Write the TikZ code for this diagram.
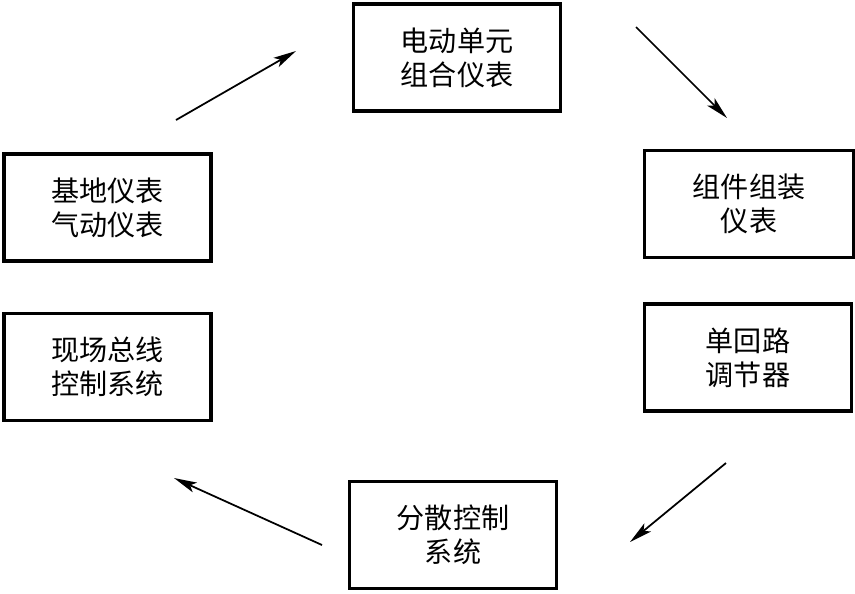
\documentclass[tikz,border=0pt]{standalone}
\usepackage{fontspec}
\newfontfamily\cjk{Noto Sans CJK SC}
\usetikzlibrary{arrows.meta,positioning}
\tikzset{
  stagebox/.style={draw,line width=1.9pt,minimum width=4.14cm,minimum height=2.14cm,
    align=center,inner sep=0pt,font=\cjk\fontsize{16}{19.5}\selectfont},
  flow/.style={-{Stealth[length=13pt,width=6pt,inset=3pt]},line width=1pt}
}

\begin{document}
\begin{tikzpicture}[x=0.02cm,y=-0.02cm]
  \useasboundingbox (0,0) rectangle (855,593);

  % the six stages of instrument development
  \node[stagebox] (ddzh) at (457,57.5) {电动单元\\组合仪表};
  \node[stagebox,minimum width=4.18cm] (zjzz) at (749,204) {组件组装\\仪表};
  \node[stagebox] (dhl) at (748,357.5) {单回路\\调节器};
  \node[stagebox] (fskz) at (453,535) {分散控制\\系统};
  \node[stagebox] (xczx) at (107.5,367) {现场总线\\控制系统};
  \node[stagebox] (jdqd) at (107.5,207.5) {基地仪表\\气动仪表};

  % free arrow ends
  \coordinate (a1s) at (176,120);  \coordinate (a1e) at (296,51);
  \coordinate (a2s) at (636,27);   \coordinate (a2e) at (727,118);
  \coordinate (a3s) at (726,463);  \coordinate (a3e) at (630,542);
  \coordinate (a4s) at (322,545);  \coordinate (a4e) at (174,478);

  \draw[flow] (a1s) -- (a1e);
  \draw[flow] (a2s) -- (a2e);
  \draw[flow] (a3s) -- (a3e);
  \draw[flow] (a4s) -- (a4e);
\end{tikzpicture}
\end{document}
